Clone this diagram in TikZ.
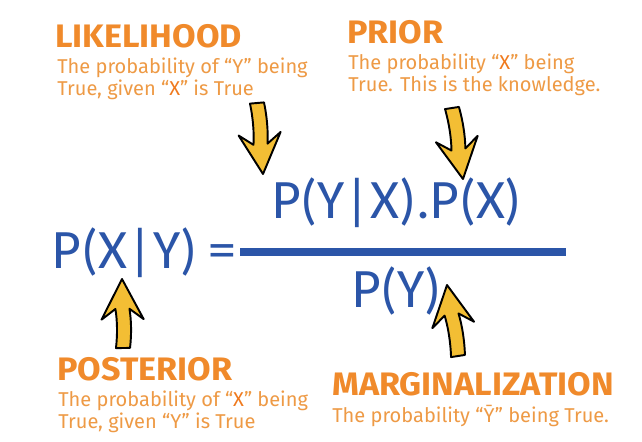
\documentclass[tikz,border=0pt]{standalone}
\usepackage{fontspec}
\usepackage{xcolor}
\usepackage{tikz}
\usetikzlibrary{calc}
\setmainfont{Fira Sans}
\newfontfamily\headfont[FakeStretch=1.05]{Fira Sans}
\newfontfamily\formulafont{Carlito}

\definecolor{titleorange}{HTML}{F08A2B}
\definecolor{bodyorange}{HTML}{EE9A45}
\definecolor{quoteorange}{HTML}{F07A1E}
\definecolor{formulablue}{HTML}{2B55A8}
\definecolor{arrowyellow}{HTML}{F3BE34}

% fat sketchy arrow from #1 to #2, shaft bent by #3
\newcommand{\fatarrow}[3]{%
  \draw[fatarrow] let \p1=($(#2)-(#1)$), \n1={atan2(\y1,\x1)}, \n2={veclen(\x1,\y1)} in
    [shift={(#1)}, rotate=\n1]
    (0pt,-4pt) .. controls (0.35*\n2-6pt,-4pt+#3) and (0.7*\n2-12pt,-4pt+#3) .. (\n2-17pt,-4pt)
    -- (\n2-23pt,-12pt) -- (\n2,0pt) -- (\n2-23pt,12pt) -- (\n2-17pt,4pt)
    .. controls (0.7*\n2-12pt,4pt+#3) and (0.35*\n2-6pt,4pt+#3) .. (0pt,4pt) -- cycle;}

\begin{document}
\begin{tikzpicture}[x=0.02cm, y=-0.02cm,
        title/.style={anchor=base west, inner sep=0pt, text=titleorange, font=\headfont\fontsize{18.5}{18}\selectfont\bfseries},
        descr/.style={anchor=base west, inner sep=0pt, align=left, text=bodyorange, font=\fontsize{11.4}{12.4}\selectfont},
        formula/.style={anchor=base, inner sep=0pt, text=formulablue, font=\formulafont\fontsize{31.7}{32}\selectfont},
        fatarrow/.style={draw=black, fill=arrowyellow, line width=1.1pt, line join=round},
        fracbar/.style={draw=formulablue, line width=4pt}
    ]
        \fill[white] (0,0) rectangle (642,441);

        % Labels (multi-line texts sit on their last baseline)
        \node [title] (liketitle) at (55,47) {LIKELIHOOD};
        \node [descr] (liketext) at (57,95) {The probability of ``Y'' being\\ True, given ``{\color{quoteorange}X}'' is True};

        \node [title] (priortitle) at (347,43) {PRIOR};
        \node [descr] (priortext) at (348,91) {The probability ``{\color{quoteorange}X}'' being\\ True. This is the knowledge.};

        \node [title] (posttitle) at (57,380) {POSTERIOR};
        \node [descr] (posttext) at (58,428) {The probability of ``{\color{quoteorange}X}'' being\\ True, given ``Y'' is True};

        \node [title] (margtitle) at (332,395) {MARGINALIZATION};
        \node [descr] (margtext) at (332,422) {The probability ``\=Y'' being True.};

        % Formula
        \node [formula] (lhs) at (125,268) {P(X|Y)};
        \node [formula] (equals) at (222,268) {=};
        \node [formula] (numer) at (397,218) {P(Y|X).P(X)};
        \node [formula] (denom) at (397,307) {P(Y)};
        \coordinate (barleft) at (240,252);
        \coordinate (barright) at (566,252);
        \path [fracbar] (barleft) -- (barright);

        % Arrows
        \coordinate (liketail) at (257,103);
        \coordinate (liketip) at (263,174);
        \coordinate (priortail) at (452,108);
        \coordinate (priortip) at (463,179);
        \coordinate (posttail) at (123,348);
        \coordinate (posttip) at (122,279);
        \coordinate (margtail) at (458,356);
        \coordinate (margtip) at (447,285);
        \fatarrow{liketail}{liketip}{1pt}
        \fatarrow{priortail}{priortip}{1pt}
        \fatarrow{posttail}{posttip}{-1pt}
        \fatarrow{margtail}{margtip}{-1pt}

    \end{tikzpicture}
\end{document}
